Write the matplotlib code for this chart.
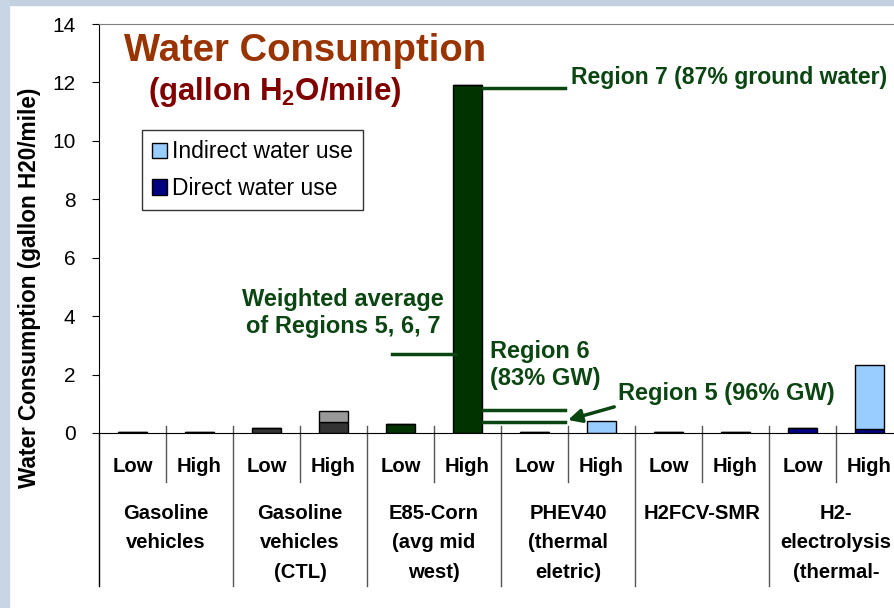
import numpy as np
import matplotlib
matplotlib.use('Agg')
import matplotlib.pyplot as plt
from matplotlib.patches import Patch, Rectangle

plt.rcParams['font.family'] = ['Liberation Sans', 'DejaVu Sans']

# data
groups = ['Gasoline\nvehicles', 'Gasoline\nvehicles\n(CTL)', 'E85-Corn\n(avg mid\nwest)',
          'PHEV40\n(thermal\neletric)', 'H2FCV-SMR', 'H2-\nelectrolysis\n(thermal-']
cases = ['Low', 'High']
direct = [0.03, 0.03, 0.17, 0.36, 0.30, 11.9, 0.03, 0.0, 0.03, 0.03, 0.18, 0.12]
indirect = [0.0, 0.0, 0.0, 0.38, 0.0, 0.0, 0.0, 0.41, 0.0, 0.0, 0.0, 2.21]
direct_col = ['#000080', '#333333', '#003300', '#000080', '#000080', '#000080']
indirect_col = ['#99ccff', '#999999', '#99ccff', '#99ccff', '#99ccff', '#99ccff']

green = '#0b4612'

fig = plt.figure(figsize=(8.94, 6.08), dpi=100)
fig.patch.set_facecolor('white')
# slide border
fig.add_artist(Rectangle((0, 1 - 5/608), 1, 5/608, transform=fig.transFigure, color='#c3d0e0', zorder=0))
fig.add_artist(Rectangle((0, 0), 9/894, 1, transform=fig.transFigure, color='#c8d5e5', zorder=0))

ax = fig.add_axes([99/894, 175/608, 804/894, 409/608])
n = len(direct)
x = np.arange(n) + 0.5
dc = [direct_col[i // 2] for i in range(n)]
ic = [indirect_col[i // 2] for i in range(n)]
ax.bar(x, direct, 0.42, color=dc, edgecolor='black', linewidth=1.0)
ax.bar(x, indirect, 0.42, bottom=direct, color=ic, edgecolor='black', linewidth=1.0)

ax.set_xlim(0, n)
ax.set_ylim(0, 14)
ax.set_yticks(range(0, 15, 2))
ax.tick_params(axis='y', direction='out', length=5, labelsize=15, pad=12)
ax.set_xticks([])
ax.spines['right'].set_visible(False)
ax.spines['top'].set_color('#808080')
ax.set_ylabel('Water Consumption (gallon H20/mile)', fontsize=16.3, fontweight='bold')
ax.yaxis.set_label_coords(-0.072, 0.355)

# category axis
tr = ax.get_xaxis_transform()
px = 1 / 409
for i in range(1, n):
    y_end = -153 * px if i % 2 == 0 else -49 * px
    ax.plot([i, i], [7 * px, y_end], color='#555555', lw=1, transform=tr, clip_on=False)
ax.plot([0, 0], [0, -153 * px], color='black', lw=1, transform=tr, clip_on=False)
for i in range(n):
    ax.text(x[i], -33 * px, cases[i % 2], transform=tr, ha='center', va='center',
            fontsize=14.6, fontweight='bold')
for g, name in enumerate(groups):
    ax.text(2 * g + 1, -71 * px, name, transform=tr, ha='center', va='top',
            fontsize=14.6, fontweight='bold', linespacing=1.7)

# titles and legend
ax.text(0.031, 0.934, 'Water Consumption', transform=ax.transAxes, ha='left', va='center',
        fontsize=27.5, fontweight='bold', color='#993300')
ax.text(0.061, 0.833, r'(gallon H$\mathregular{_2}$O/mile)', transform=ax.transAxes,
        ha='left', va='center', fontsize=22.5, fontweight='bold', color='#800000')
handles = [Patch(facecolor='#99ccff', edgecolor='black', label='Indirect water use'),
           Patch(facecolor='#000080', edgecolor='black', label='Direct water use')]
leg = ax.legend(handles=handles, loc='upper left', bbox_to_anchor=(0.0535, 0.741),
                borderaxespad=0, fontsize=16.5, frameon=True, fancybox=False,
                handlelength=0.65, handleheight=0.65, handletextpad=0.2,
                labelspacing=0.6, borderpad=0.45)
leg.get_frame().set_edgecolor('black')
leg.get_frame().set_linewidth(1)

# region annotations
ax.plot([5.73, 6.955], [11.8, 11.8], color=green, lw=2.5)
ax.text(7.04, 12.16, 'Region 7 (87% ground water)', ha='left', va='center',
        fontsize=16.6, fontweight='bold', color=green)
ax.plot([4.37, 5.31], [2.7, 2.7], color=green, lw=2.5)
ax.text(3.64, 4.11, 'Weighted average\nof Regions 5, 6, 7', ha='center', va='center',
        fontsize=17, fontweight='bold', color=green, linespacing=1.25)
ax.plot([5.73, 6.955], [0.79, 0.79], color=green, lw=2.5)
ax.text(5.84, 2.33, 'Region 6\n(83% GW)', ha='left', va='center',
        fontsize=17, fontweight='bold', color=green, linespacing=1.25)
ax.plot([5.73, 6.955], [0.36, 0.36], color=green, lw=2.5)
ax.annotate('', xy=(6.96, 0.42), xytext=(7.73, 0.92),
            arrowprops=dict(arrowstyle='-|>', color=green, lw=2.5, mutation_scale=20))
ax.text(7.75, 1.34, 'Region 5 (96% GW)', ha='left', va='center',
        fontsize=17, fontweight='bold', color=green)

fig.savefig('out.png', dpi=100)
